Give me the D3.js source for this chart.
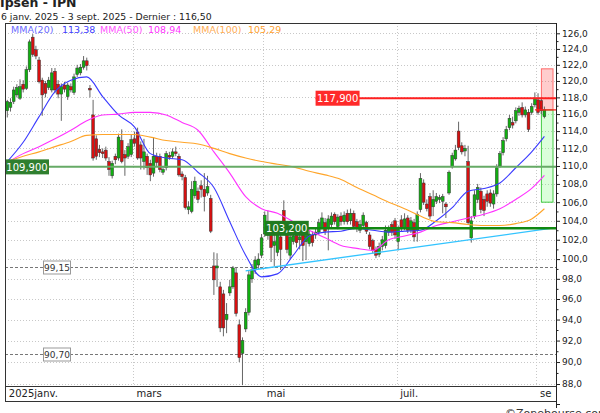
<!DOCTYPE html>
<html>
<head>
<meta charset="utf-8">
<script src="https://cdn.jsdelivr.net/npm/d3@7"></script>
<style>
body { margin: 0; background: #fff; }
text { font-family: "DejaVu Sans", Verdana, sans-serif; }
</style>
</head>
<body>
<div class="chart"></div>
<script>
// DATA ---------------------------------------------------------------

// trading days (Euronext), 6 janv. -> 3 sept. 2025
const holidays = ['2025-04-18', '2025-04-21', '2025-05-01'];
const parseDay = d3.timeParse('%Y-%m-%d');
const fmtDay = d3.timeFormat('%Y-%m-%d');
const days = d3.timeDay.range(parseDay('2025-01-06'), parseDay('2025-09-04'))
    .filter(d => d.getDay() !== 0 && d.getDay() !== 6 && !holidays.includes(fmtDay(d)))
    .map(fmtDay);

const monthTicks = ['2025-01-06', '2025-03-03', '2025-05-02', '2025-07-01', '2025-09-01'];
const monthLabels = ['2025janv.', 'mars', 'mai', 'juil.', 'sept.'];

const opens = [
116.4,116.8,117.5,118.3,117.9,119.6,119.1,121.4,125.5,123.9,
122.6,120.1,119.7,119.2,118.9,121.2,119.6,118.4,119.5,118.1,
119.3,118.6,120.8,121.0,121.7,122.5,119.1,115.9,113.1,111.9,
111.6,111.8,110.5,108.9,111.1,110.9,112.9,111.3,111.1,111.3,
113.1,113.9,112.4,110.5,111.1,110.3,109.2,111.1,111.1,109.3,
109.8,111.2,111.1,111.6,111.1,109.1,108.7,105.2,105.0,106.7,
107.2,107.8,107.4,107.0,106.4,99.3,99.1,97.2,96.5,94.0,
96.6,97.2,98.6,93.5,90.8,93.1,94.7,98.0,98.9,99.4,
100.4,102.6,102.5,103.4,101.4,100.7,102.3,105.1,102.7,100.4,
101.8,103.0,102.0,102.6,101.8,101.6,102.5,102.5,102.8,103.3,
103.8,103.3,103.6,104.7,103.4,104.5,103.9,104.8,104.0,104.8,
103.9,103.0,103.5,103.8,102.5,101.9,101.0,100.5,101.3,101.4,
102.8,103.6,104.0,101.8,104.1,103.3,104.3,103.0,103.8,103.0,
105.2,108.1,105.8,106.6,105.5,106.1,106.3,106.1,105.8,107.0,
109.9,110.8,114.0,112.3,111.7,110.5,102.2,104.5,106.3,107.2,
106.3,106.9,107.0,105.8,106.9,110.0,111.5,113.1,114.4,115.0,
115.2,116.2,116.8,115.9,116.2,116.2,117.1,117.7,117.6,115.7];

const highs = [
117.7,117.9,119.3,119.6,120.2,120.1,121.8,125.2,125.9,124.4,
123.0,120.4,120.0,120.5,121.6,121.6,120.1,119.7,119.9,119.8,
119.7,120.9,122.0,122.1,123.1,122.9,119.5,117.7,113.5,112.4,
112.0,112.2,111.0,110.6,111.4,113.7,114.2,111.8,112.6,113.6,
113.9,114.4,112.8,113.1,111.4,110.7,113.3,111.5,111.4,110.0,
111.7,111.6,112.0,112.2,111.4,109.4,109.0,106.1,108.3,108.8,
107.6,108.4,109.2,108.9,106.8,100.7,100.6,97.7,96.9,95.6,
97.9,99.3,99.1,94.0,92.3,95.1,98.8,99.5,100.3,100.6,
102.6,105.0,105.1,103.8,102.8,103.2,102.8,106.2,103.1,102.7,
103.3,103.5,103.0,103.0,103.0,103.1,102.9,103.2,104.2,104.9,
104.3,104.6,104.9,104.9,104.7,104.9,105.0,105.2,105.3,105.1,
104.2,104.1,104.9,104.0,102.8,102.1,101.3,101.7,102.4,103.5,
103.5,103.9,104.3,103.5,104.6,104.8,104.6,104.4,104.2,105.0,
109.2,108.5,106.3,107.0,107.3,107.0,106.8,106.9,106.0,109.5,
111.5,112.4,115.1,112.7,112.4,112.3,104.5,107.3,108.0,107.6,
106.7,107.3,107.4,107.3,110.2,111.7,113.3,114.6,115.9,115.7,
116.8,117.0,117.4,116.9,116.6,117.3,118.6,118.5,118.0,116.9];

const lows = [
115.6,116.3,117.2,118.0,117.7,118.6,118.9,121.1,123.0,122.7,
119.7,115.8,118.0,118.9,118.6,118.5,117.9,115.2,118.6,117.7,
118.6,118.3,120.5,120.7,121.4,121.3,118.0,110.6,110.7,111.0,
110.9,110.6,108.9,108.6,110.2,110.6,110.3,108.9,110.8,111.0,
112.2,110.7,109.6,109.6,109.0,108.3,108.8,110.0,109.3,109.0,
109.5,110.7,110.8,111.1,108.8,108.4,105.2,104.7,104.8,106.4,
105.9,106.5,105.0,106.7,102.7,96.4,97.2,92.8,92.4,92.7,
96.3,97.0,94.3,90.0,87.9,92.8,94.4,97.6,98.5,99.0,
100.1,102.3,102.0,99.7,99.3,100.3,98.9,103.2,100.6,100.0,
101.5,101.2,101.0,99.8,99.9,101.3,101.3,102.1,102.5,103.1,
102.5,100.9,103.3,103.6,103.1,103.5,103.6,103.6,103.6,103.1,
102.8,102.7,103.2,102.6,101.0,100.6,100.1,100.2,100.9,101.1,
102.4,102.4,102.1,100.9,102.9,103.0,102.7,102.7,101.8,101.8,
104.9,105.7,105.0,104.2,104.5,105.8,105.9,104.8,104.3,106.8,
109.7,110.6,111.8,111.3,111.1,103.6,101.7,104.2,105.9,104.8,
104.5,105.5,105.5,105.3,106.6,109.8,111.2,112.8,114.1,114.3,
114.9,115.8,115.6,115.6,113.9,115.9,116.8,115.9,116.0,115.5];

const closes = [
117.5,117.4,118.9,119.2,119.3,119.0,121.4,124.9,123.3,123.1,
119.9,118.3,118.5,120.1,121.0,118.9,118.4,119.3,119.0,119.5,
118.9,120.5,121.6,121.7,122.5,121.9,118.9,110.9,111.1,111.5,
111.4,110.9,109.6,110.3,110.7,113.3,110.5,110.9,112.2,113.0,
112.6,110.9,110.9,111.6,109.8,109.0,111.1,110.4,109.6,109.6,
111.4,111.0,111.6,111.4,109.0,108.8,105.4,105.5,107.4,108.3,
106.3,107.4,106.6,107.7,102.9,97.9,99.3,93.2,93.2,94.5,
97.2,99.1,94.6,90.4,92.0,94.7,98.4,98.9,99.9,100.0,
102.2,104.6,103.6,101.2,101.8,102.7,101.0,103.9,101.0,102.3,
102.4,101.7,102.3,101.4,102.4,102.6,101.7,102.8,103.8,104.3,
102.9,104.2,104.5,103.9,104.4,103.9,104.6,103.9,104.8,103.4,
103.2,103.6,104.6,102.9,101.3,100.9,100.4,101.3,102.0,103.0,
103.2,102.8,102.5,103.1,103.2,104.2,103.0,104.0,102.3,104.7,
108.6,106.0,105.3,104.5,106.3,106.6,106.5,106.6,105.5,109.3,
111.2,111.8,112.1,111.6,112.0,103.8,104.0,106.8,107.6,105.2,
105.1,106.1,105.9,106.9,109.8,111.4,112.9,114.2,115.5,114.7,
116.4,116.7,115.9,116.5,114.2,116.9,117.9,116.2,116.4,116.5];

// moving averages, read every 5 sessions
const mmaIdx = [0,5,10,15,20,25,30,35,40,45,50,55,60,65,70,75,80,85,90,95,
    100,105,110,115,120,125,130,135,140,145,150,155,160,165,169];
const mma20 = [110.5,112.7,115.7,118.7,120.1,120.5,118.1,115.9,114.5,111.4,
    110.9,110.7,109.3,107.6,103.9,100.4,98.2,98.5,100.4,102.4,
    102.8,102.9,103.2,103.0,102.8,102.9,103.0,104.0,105.4,107.2,
    107.5,108.1,109.8,111.6,113.38];
const mma50 = [110.4,111.4,112.2,113.1,114.1,115.2,115.9,116.0,116.2,116.2,
    115.9,115.0,114.1,111.6,109.2,106.6,105.3,104.8,103.9,103.0,
    102.2,101.4,101.1,100.9,102.0,102.4,102.8,103.5,103.9,104.3,
    104.7,105.3,106.3,107.5,108.94];
const mma100 = [110.5,111.1,111.6,112.2,112.8,113.5,113.6,113.6,113.6,113.3,
    112.9,112.7,112.5,112.0,111.4,110.9,110.5,110.2,109.9,109.4,
    109.0,108.5,107.6,106.8,106.0,105.3,104.5,103.9,103.8,103.6,
    103.5,103.5,103.7,104.2,105.29];

const mmaNames = ['MMA(20)', 'MMA(50)', 'MMA(100)'];
const mmaLast = ['113,38', '108,94', '105,29'];

// horizontal levels drawn on the chart
const levels = [117.9, 109.9, 103.2];
const levelLabels = ['117,900', '109,900', '103,200'];
const levelStart = ['2025-05-26', '2025-01-06', '2025-05-02'];
const supports = [99.15, 90.70];
const supportLabels = ['99,15', '90,70'];

// rising trend line (start session, price at start and at last session)
const trendDays = ['2025-04-23', '2025-09-03'];
const trendVals = [98.8, 103.1];

const lastPrice = 116.5;
const projection = [121.5, 116.5, 106.0];

// CHART INIT ---------------------------------------------------------

const frame = {left: 5, top: 23, right: 556, plotBottom: 386, bottom: 401};

const svg = d3.select('.chart')
    .append('svg')
    .attr('width', 600)
    .attr('height', 413);

const defs = svg.append('defs');
defs.append('clipPath').attr('id', 'plot-clip')
    .append('rect')
    .attr('x', frame.left).attr('y', frame.top)
    .attr('width', frame.right - frame.left)
    .attr('height', frame.plotBottom - frame.top);
defs.append('clipPath').attr('id', 'axis-clip')
    .append('rect')
    .attr('x', frame.left).attr('y', frame.plotBottom)
    .attr('width', 547)
    .attr('height', frame.bottom - frame.plotBottom);

const xScale = d3.scalePoint()
    .domain(days)
    .range([7.3, 544.4]);

const yScale = d3.scaleLog()
    .domain([88, 126])
    .range([384, 33.3]);

const majorTicks = d3.range(88, 127, 2);
const minorTicks = d3.range(89, 126, 2);

// title
svg.append('text')
    .attr('x', 0).attr('y', 7)
    .attr('font-size', 12.5).attr('font-weight', 'bold')
    .attr('fill', '#222')
    .text('Ipsen - IPN');
svg.append('text')
    .attr('x', 1).attr('y', 19.5)
    .attr('font-size', 9.3)
    .attr('fill', '#222')
    .text('6 janv. 2025 - 3 sept. 2025 - Dernier : 116,50');

// grid
const plot = svg.append('g').attr('clip-path', 'url(#plot-clip)');

plot.append('g')
    .selectAll('line')
    .data(majorTicks)
    .join('line')
    .attr('x1', frame.left).attr('x2', frame.right)
    .attr('y1', d => Math.round(yScale(d)) + 0.5)
    .attr('y2', d => Math.round(yScale(d)) + 0.5)
    .attr('stroke', '#c8c8c8')
    .attr('stroke-dasharray', '1,2');

plot.append('g')
    .selectAll('line')
    .data(monthTicks.slice(1))
    .join('line')
    .attr('x1', d => Math.round(xScale(d) - 1.6) + 0.5)
    .attr('x2', d => Math.round(xScale(d) - 1.6) + 0.5)
    .attr('y1', frame.top).attr('y2', frame.plotBottom)
    .attr('stroke', '#c8c8c8')
    .attr('stroke-dasharray', '1,2');

// support lines (dashed)
plot.append('g')
    .selectAll('line')
    .data(supports)
    .join('line')
    .attr('x1', frame.left).attr('x2', frame.right)
    .attr('y1', d => Math.round(yScale(d)) + 0.5)
    .attr('y2', d => Math.round(yScale(d)) + 0.5)
    .attr('stroke', '#777')
    .attr('stroke-dasharray', '3,2');

// projection boxes
const boxX = xScale(days[days.length - 1]) - 3;
plot.append('rect')
    .attr('x', boxX).attr('width', 553 - boxX)
    .attr('y', yScale(projection[0]))
    .attr('height', yScale(projection[1]) - yScale(projection[0]))
    .attr('fill', 'rgba(255,90,90,0.3)')
    .attr('stroke', '#ff6a6a');
plot.append('rect')
    .attr('x', boxX).attr('width', 553 - boxX)
    .attr('y', yScale(projection[1]))
    .attr('height', yScale(projection[2]) - yScale(projection[1]))
    .attr('fill', 'rgba(90,255,90,0.22)')
    .attr('stroke', '#44cc44');

// CANDLES ------------------------------------------------------------

const candles = days.map((d, i) => ({date: d, o: opens[i], h: highs[i], l: lows[i], c: closes[i]}));

plot.append('g')
    .selectAll('line')
    .data(candles)
    .join('line')
    .attr('x1', d => xScale(d.date)).attr('x2', d => xScale(d.date))
    .attr('y1', d => yScale(d.h)).attr('y2', d => yScale(d.l))
    .attr('stroke', '#555')
    .attr('stroke-width', 0.9);

plot.append('g')
    .selectAll('rect')
    .data(candles)
    .join('rect')
    .attr('x', d => xScale(d.date) - 1.4)
    .attr('width', 2.8)
    .attr('y', d => yScale(Math.max(d.o, d.c)))
    .attr('height', d => Math.max(1, Math.abs(yScale(d.o) - yScale(d.c))))
    .attr('fill', d => d.c >= d.o ? '#10b010' : '#d81010')
    .attr('stroke', '#333')
    .attr('stroke-width', 0.5);

// MOVING AVERAGES ----------------------------------------------------

const mmaLine = d3.line()
    .x(d => xScale(days[d[0]]))
    .y(d => yScale(d[1]))
    .curve(d3.curveMonotoneX);

const mmaColors = ['#3a3aff', '#ff33ff', '#ffa52a'];
[mma20, mma50, mma100].forEach((vals, k) => {
    plot.append('path')
        .datum(mmaIdx.map((idx, j) => [idx, vals[j]]))
        .attr('d', mmaLine)
        .attr('fill', 'none')
        .attr('stroke', mmaColors[k])
        .attr('stroke-width', 1.1);
});

// trend line, extended to the right axis
const tx0 = xScale(trendDays[0]), ty0 = yScale(trendVals[0]);
const tx1 = xScale(trendDays[1]), ty1 = yScale(trendVals[1]);
const slope = (ty1 - ty0) / (tx1 - tx0);
plot.append('line')
    .attr('x1', tx0).attr('y1', ty0)
    .attr('x2', frame.right).attr('y2', ty0 + slope * (frame.right - tx0))
    .attr('stroke', '#33c4ff')
    .attr('stroke-width', 1.3);

// level lines
const levelColors = ['#ff2020', '#66aa66', '#118811'];
const levelWidths = [2, 2, 2.5];
const labelColors = ['#ff2a2a', '#2f7f2f', '#1f7a1f'];
levels.forEach((v, k) => {
    const x0 = k === 1 ? frame.left : xScale(levelStart[k]);
    const y = yScale(v);
    plot.append('line')
        .attr('x1', x0).attr('x2', frame.right)
        .attr('y1', y).attr('y2', y)
        .attr('stroke', levelColors[k])
        .attr('stroke-width', levelWidths[k]);
});

// last price marker
plot.append('line')
    .attr('x1', 535).attr('x2', frame.right)
    .attr('y1', yScale(lastPrice)).attr('y2', yScale(lastPrice))
    .attr('stroke', '#ff2020')
    .attr('stroke-width', 1.3);

// level labels
levels.forEach((v, k) => {
    const x0 = k === 1 ? frame.left : xScale(levelStart[k]);
    const y = yScale(v);
    plot.append('rect')
        .attr('x', x0).attr('y', y - 7.5)
        .attr('width', 44).attr('height', 15)
        .attr('fill', labelColors[k]);
    plot.append('text')
        .attr('x', x0 + 22).attr('y', y + 3.8)
        .attr('text-anchor', 'middle')
        .attr('font-size', 10)
        .attr('fill', '#fff')
        .text(levelLabels[k]);
});

supports.forEach((v, k) => {
    const y = Math.round(yScale(v)) + 0.5;
    plot.append('rect')
        .attr('x', 43.5).attr('y', y - 6.5)
        .attr('width', 27).attr('height', 13)
        .attr('fill', '#fff')
        .attr('stroke', '#999');
    plot.append('text')
        .attr('x', 57).attr('y', y + 3.3)
        .attr('text-anchor', 'middle')
        .attr('font-size', 9)
        .attr('fill', '#333')
        .text(supportLabels[k]);
});

// legend
const legendNameColors = ['#6a6aff', '#ff55ff', '#ffad55'];
const legendValColors = ['#4040ff', '#ff33ff', '#ffa030'];
const legendX = [[11, 62], [100, 148], [193, 248]];
mmaNames.forEach((name, k) => {
    svg.append('text')
        .attr('x', legendX[k][0]).attr('y', 33)
        .attr('font-size', 9.5)
        .attr('fill', legendNameColors[k])
        .text(name);
    svg.append('text')
        .attr('x', legendX[k][1]).attr('y', 33)
        .attr('font-size', 9.5)
        .attr('fill', legendValColors[k])
        .text(mmaLast[k]);
});

// AXES ---------------------------------------------------------------

const yAxis = d3.axisRight(yScale)
    .tickValues(majorTicks)
    .tickSize(4)
    .tickPadding(2)
    .tickFormat(d => d3.format('.1f')(d).replace('.', ','));

const yMinor = d3.axisRight(yScale)
    .tickValues(minorTicks)
    .tickSize(2.5)
    .tickFormat('');

svg.append('g')
    .attr('class', 'axis y-axis')
    .attr('transform', 'translate(' + frame.right + ',0)')
    .call(yAxis)
    .call(g => g.select('.domain').remove())
    .call(g => g.selectAll('text').attr('font-size', 9).attr('fill', '#222').attr('font-family', '"DejaVu Sans", Verdana, sans-serif'))
    .call(g => g.selectAll('line').attr('stroke', '#222'));

svg.append('g')
    .attr('class', 'axis y-minor')
    .attr('transform', 'translate(' + frame.right + ',0)')
    .call(yMinor)
    .call(g => g.select('.domain').remove())
    .call(g => g.selectAll('line').attr('stroke', '#222'));

const xAxis = d3.axisBottom(xScale)
    .tickValues(monthTicks)
    .tickSize(0)
    .tickFormat((d, i) => monthLabels[i]);

svg.append('g')
    .attr('class', 'axis x-axis')
    .attr('clip-path', 'url(#axis-clip)')
    .append('g')
    .attr('transform', 'translate(0,' + frame.plotBottom + ')')
    .call(xAxis)
    .call(g => g.select('.domain').remove())
    .call(g => g.selectAll('text')
        .attr('text-anchor', 'start')
        .attr('x', (d, i) => i === 0 ? 1 : 1.5)
        .attr('y', 11).attr('dy', 0)
        .attr('font-size', 10)
        .attr('fill', '#222')
        .attr('font-family', '"DejaVu Sans", Verdana, sans-serif'));

// frame
svg.append('rect')
    .attr('x', frame.left + 0.5).attr('y', frame.top + 0.5)
    .attr('width', frame.right - frame.left)
    .attr('height', frame.bottom - frame.top)
    .attr('fill', 'none')
    .attr('stroke', '#333');
svg.append('line')
    .attr('x1', frame.left).attr('x2', frame.right)
    .attr('y1', frame.plotBottom + 0.5).attr('y2', frame.plotBottom + 0.5)
    .attr('stroke', '#333');
svg.append('line')
    .attr('x1', frame.right + 0.5).attr('x2', frame.right + 0.5)
    .attr('y1', frame.top).attr('y2', 408)
    .attr('stroke', '#222');
svg.append('line')
    .attr('x1', frame.right).attr('x2', frame.right + 4)
    .attr('y1', 404.5).attr('y2', 404.5)
    .attr('stroke', '#222');

svg.append('text')
    .attr('x', 505).attr('y', 417)
    .attr('font-size', 11)
    .attr('fill', '#333')
    .text('©Zonebourse.com');
</script>
</body>
</html>
